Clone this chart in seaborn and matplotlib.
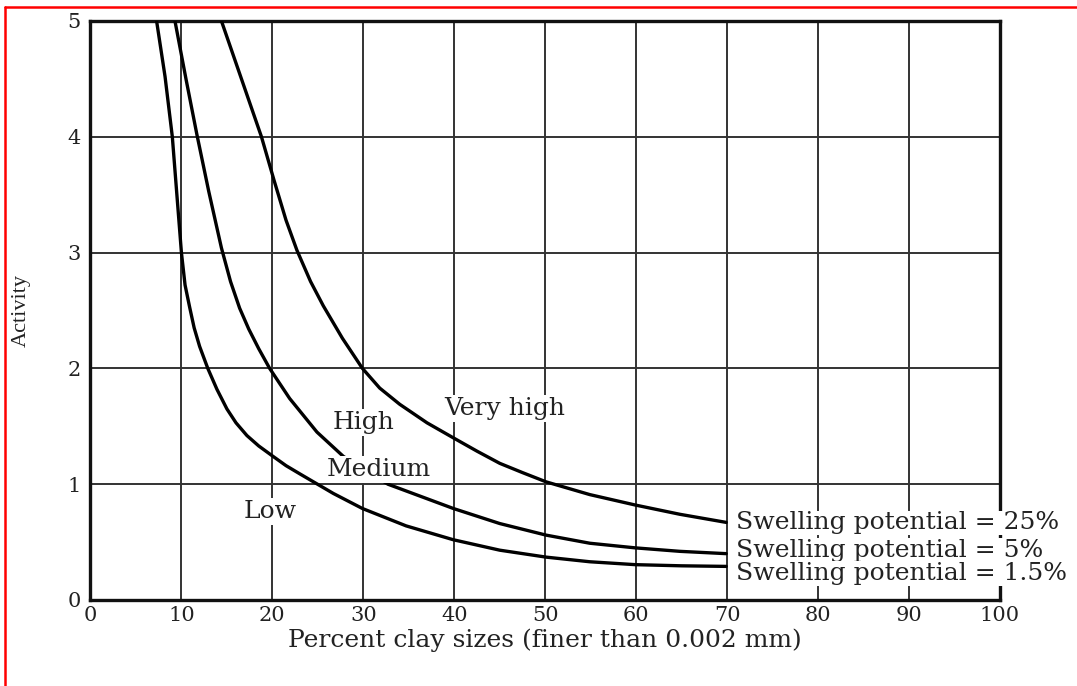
import matplotlib
matplotlib.use("Agg")
import matplotlib.pyplot as plt
from matplotlib.lines import Line2D
import seaborn as sns
import pandas as pd

# Activity curves for three swelling potentials (percent clay vs. activity)
low_x = [7.27, 8.2, 9.0, 9.5, 10.0, 10.4, 10.9, 11.4, 12.0, 12.9, 13.9, 15.0, 16.0, 17.2,
         18.5, 19.9, 21.5, 23.0, 26.7, 29.9, 34.7, 39.9, 45.0, 50.1, 54.9, 59.9, 65.0, 69.9]
low_y = [5.0, 4.52, 4.0, 3.5, 3.0, 2.72, 2.53, 2.35, 2.19, 2.0, 1.82, 1.65, 1.53, 1.42,
         1.33, 1.25, 1.16, 1.09, 0.92, 0.79, 0.64, 0.52, 0.43, 0.37, 0.33, 0.305, 0.295, 0.29]

mid_x = [9.29, 10.5, 11.7, 13.0, 14.4, 15.4, 16.4, 17.4, 18.5, 19.7, 21.9, 24.9, 27.8,
         32.7, 39.9, 45.0, 50.1, 54.9, 59.9, 64.8, 69.9]
mid_y = [5.0, 4.5, 4.02, 3.53, 3.04, 2.75, 2.52, 2.34, 2.17, 2.0, 1.74, 1.45, 1.24,
         1.0, 0.79, 0.66, 0.56, 0.49, 0.45, 0.42, 0.40]

high_x = [14.4, 16.6, 18.8, 20.2, 21.5, 22.7, 24.2, 25.6, 27.7, 29.9, 31.8, 34.0, 37.0,
          39.9, 42.5, 45.0, 47.5, 50.1, 54.9, 59.9, 64.8, 69.9]
high_y = [5.0, 4.5, 4.0, 3.62, 3.28, 3.02, 2.75, 2.54, 2.26, 2.0, 1.83, 1.69, 1.53,
          1.40, 1.285, 1.18, 1.10, 1.02, 0.91, 0.82, 0.74, 0.67]

x_ticks = [0, 10, 20, 30, 40, 50, 60, 70, 80, 90, 100]
y_ticks = [0, 1, 2, 3, 4, 5]

zone_labels = ["Very high", "High", "Medium", "Low"]
swell_labels = ["Swelling potential = 25%", "Swelling potential = 5%", "Swelling potential = 1.5%"]

sns.set_style("white")
plt.rcParams["font.family"] = ["DejaVu Serif"]

fig = plt.figure(figsize=(10.77, 6.86), dpi=100)
ax = fig.add_axes([0.084, 0.1254, 0.8445, 0.8440])

curves = pd.concat([
    pd.DataFrame({"clay": low_x, "activity": low_y, "sp": "1.5"}),
    pd.DataFrame({"clay": mid_x, "activity": mid_y, "sp": "5"}),
    pd.DataFrame({"clay": high_x, "activity": high_y, "sp": "25"}),
])
for key, grp in curves.groupby("sp"):
    sns.lineplot(data=grp, x="clay", y="activity", ax=ax, color="black",
                 linewidth=2.4, estimator=None, sort=False, zorder=3)

ax.set_xlim(0, 100)
ax.set_ylim(0, 5)
ax.set_xticks(x_ticks)
ax.set_yticks(y_ticks)
ax.set_xticklabels([str(t) for t in x_ticks], fontsize=15)
ax.set_yticklabels([str(t) for t in y_ticks], fontsize=15)
ax.tick_params(axis="both", length=0, colors="#222222")
ax.tick_params(axis="x", pad=4)
ax.tick_params(axis="y", pad=7)
ax.grid(True, color="#333333", linewidth=1.4)
ax.set_axisbelow(True)
for s in ax.spines.values():
    s.set_visible(True)
    s.set_color("#111111")
    s.set_linewidth(2.4)

ax.set_xlabel("Percent clay sizes (finer than 0.002 mm)", fontsize=18, color="#222222", labelpad=3)
ax.set_ylabel("Activity", fontsize=16, color="#222222", labelpad=26,
              family=["Liberation Serif"])

box = dict(facecolor="white", edgecolor="none", pad=1.5)
txt = dict(fontsize=18, color="#222222", zorder=4, bbox=box, ha="center", va="baseline")
ax.text(45.5, 1.60, zone_labels[0], **txt)
ax.text(30.0, 1.48, zone_labels[1], **txt)
ax.text(31.7, 1.07, zone_labels[2], **txt)
ax.text(19.8, 0.705, zone_labels[3], **txt)

sw = dict(fontsize=18, color="#222222", zorder=4, ha="left", va="baseline",
          clip_on=False, bbox=dict(facecolor="white", edgecolor="none", pad=0.5))
ax.text(71.0, 0.61, swell_labels[0], **sw)
ax.text(71.0, 0.374, swell_labels[1], **sw)
ax.text(71.0, 0.173, swell_labels[2], **sw)

# thin red frame along the top and left edges
fig.add_artist(Line2D([5 / 1077, 1.0], [1 - 7 / 686, 1 - 7 / 686], color="red", linewidth=1.8))
fig.add_artist(Line2D([5 / 1077, 5 / 1077], [0.0, 1 - 7 / 686], color="red", linewidth=1.8))

fig.savefig("out.png", dpi=100, facecolor="white")
